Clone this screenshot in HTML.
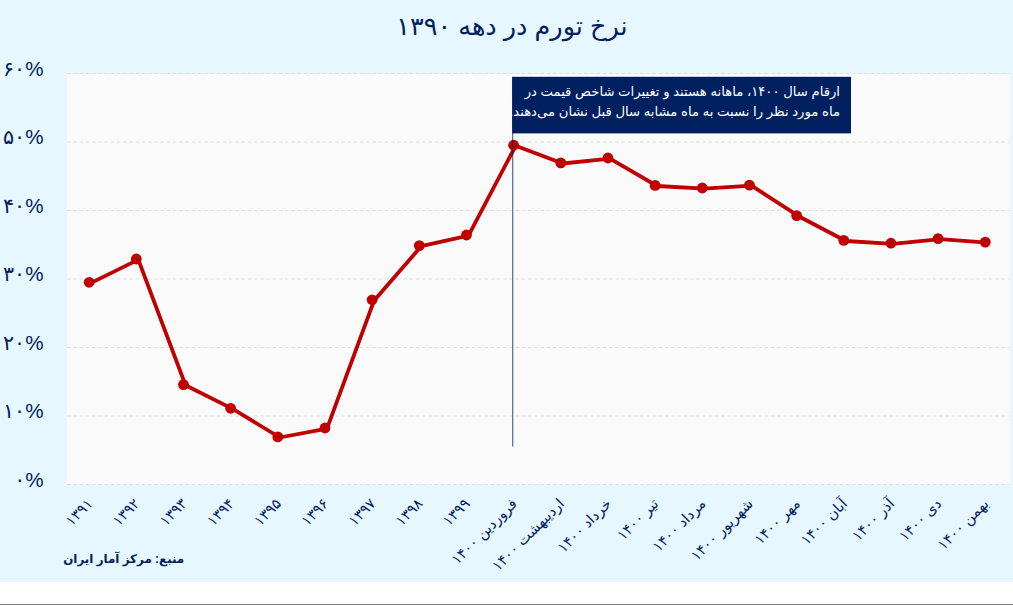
<!DOCTYPE html>
<html lang="fa">
<head>
<meta charset="utf-8">
<title>نرخ تورم در دهه ۱۳۹۰</title>
<style>
html,body{margin:0;padding:0;background:#fff}
body{width:1013px;height:605px;overflow:hidden;font-family:"Liberation Sans",sans-serif}
svg{display:block}
svg text{font-family:"Liberation Sans","DejaVu Sans",sans-serif}
</style>
</head>
<body>
<svg width="1013" height="605" viewBox="0 0 1013 605" role="img" aria-label="نرخ تورم در دهه ۱۳۹۰">
<rect width="1013" height="605" fill="#fff"/>
<rect width="1013" height="582" fill="#E6F7FF"/>
<rect x="0" y="604" width="1013" height="1" fill="#858585"/>
<rect x="67" y="74" width="943" height="410.5" fill="#FAFAFA"/>
<path d="M67 73.5H1010M67 142H1010M67 210.5H1010M67 279H1010M67 347.5H1010M67 416H1010M67 484.5H1010" stroke="#DEDEDE" stroke-width="1" stroke-dasharray="3.7 2.529" fill="none"/>
<g fill="#002060" font-size="20.6" text-anchor="end" direction="ltr">
<text x="43.5" y="75.9">۶۰%</text>
<text x="43.5" y="144.4">۵۰%</text>
<text x="43.5" y="212.9">۴۰%</text>
<text x="43.5" y="281.4">۳۰%</text>
<text x="43.5" y="349.9">۲۰%</text>
<text x="43.5" y="418.4">۱۰%</text>
<text x="43.5" y="486.9">۰%</text>
</g>
<text x="512" y="35.1" font-size="25.5" fill="#002060" text-anchor="middle" direction="rtl">نرخ تورم در دهه ۱۳۹۰</text>
<polyline points="91.15,282.9 138.31,259.6 185.48,385.2 232.65,408.9 279.81,437.5 326.98,428.6 374.14,300.4 421.3,246.2 468.47,235.6 515.63,145.8 562.8,163.5 609.96,158.6 657.13,186 704.29,188.6 751.46,185.7 798.62,216.2 845.79,241 892.95,243.8 940.12,239.2 987.28,242.7" fill="none" stroke="#C00000" stroke-width="3.8" stroke-linejoin="round" stroke-linecap="round"/>
<g fill="#C00000"><circle cx="89.15" cy="282.3" r="5.4"/><circle cx="136.31" cy="259" r="5.4"/><circle cx="183.48" cy="384.6" r="5.4"/><circle cx="230.65" cy="408.3" r="5.4"/><circle cx="277.81" cy="436.9" r="5.4"/><circle cx="324.98" cy="428" r="5.4"/><circle cx="372.14" cy="299.8" r="5.4"/><circle cx="419.3" cy="245.6" r="5.4"/><circle cx="466.47" cy="235" r="5.4"/><circle cx="513.63" cy="145.2" r="5.4"/><circle cx="560.8" cy="162.9" r="5.4"/><circle cx="607.96" cy="158" r="5.4"/><circle cx="655.13" cy="185.4" r="5.4"/><circle cx="702.29" cy="188" r="5.4"/><circle cx="749.46" cy="185.1" r="5.4"/><circle cx="796.62" cy="215.6" r="5.4"/><circle cx="843.79" cy="240.4" r="5.4"/><circle cx="890.95" cy="243.2" r="5.4"/><circle cx="938.12" cy="238.6" r="5.4"/><circle cx="985.28" cy="242.1" r="5.4"/></g>
<rect x="512.2" y="76.8" width="338.8" height="56.6" fill="#002060"/>
<rect x="512.4" y="77" width="0.8" height="369.5" fill="#002060"/>
<g fill="#fff" font-size="13.2" direction="rtl" text-anchor="start">
<text x="840" y="96.1">ارقام سال ۱۴۰۰، ماهانه هستند و تغییرات شاخص قیمت در</text>
<text x="840" y="116.4">ماه مورد نظر را نسبت به ماه مشابه سال قبل نشان می‌دهند.</text>
</g>
<g fill="#002060" font-size="14.5" text-anchor="end" direction="ltr">
<text transform="translate(93.45 504.6) rotate(-45)">۱۳۹۱</text>
<text transform="translate(140.62 504.6) rotate(-45)">۱۳۹۲</text>
<text transform="translate(187.78 504.6) rotate(-45)">۱۳۹۳</text>
<text transform="translate(234.95 504.6) rotate(-45)">۱۳۹۴</text>
<text transform="translate(282.11 504.6) rotate(-45)">۱۳۹۵</text>
<text transform="translate(329.28 504.6) rotate(-45)">۱۳۹۶</text>
<text transform="translate(376.44 504.6) rotate(-45)">۱۳۹۷</text>
<text transform="translate(423.6 504.6) rotate(-45)">۱۳۹۸</text>
<text transform="translate(470.77 504.6) rotate(-45)">۱۳۹۹</text>
<text transform="translate(517.93 504.6) rotate(-45)">فروردین ۱۴۰۰</text>
<text transform="translate(565.1 504.6) rotate(-45)">اردیبهشت ۱۴۰۰</text>
<text transform="translate(612.26 504.6) rotate(-45)">خرداد ۱۴۰۰</text>
<text transform="translate(659.43 504.6) rotate(-45)">تیر ۱۴۰۰</text>
<text transform="translate(706.59 504.6) rotate(-45)">مرداد ۱۴۰۰</text>
<text transform="translate(753.76 504.6) rotate(-45)">شهریور ۱۴۰۰</text>
<text transform="translate(800.92 504.6) rotate(-45)">مهر ۱۴۰۰</text>
<text transform="translate(848.09 504.6) rotate(-45)">آبان ۱۴۰۰</text>
<text transform="translate(895.25 504.6) rotate(-45)">آذر ۱۴۰۰</text>
<text transform="translate(942.42 504.6) rotate(-45)">دی ۱۴۰۰</text>
<text transform="translate(989.58 504.6) rotate(-45)">بهمن ۱۴۰۰</text>
</g>
<text x="123.7" y="562.5" font-size="11.9" font-weight="bold" fill="#002060" text-anchor="middle" direction="rtl">منبع: مرکز آمار ایران</text>
</svg>
</body>
</html>
